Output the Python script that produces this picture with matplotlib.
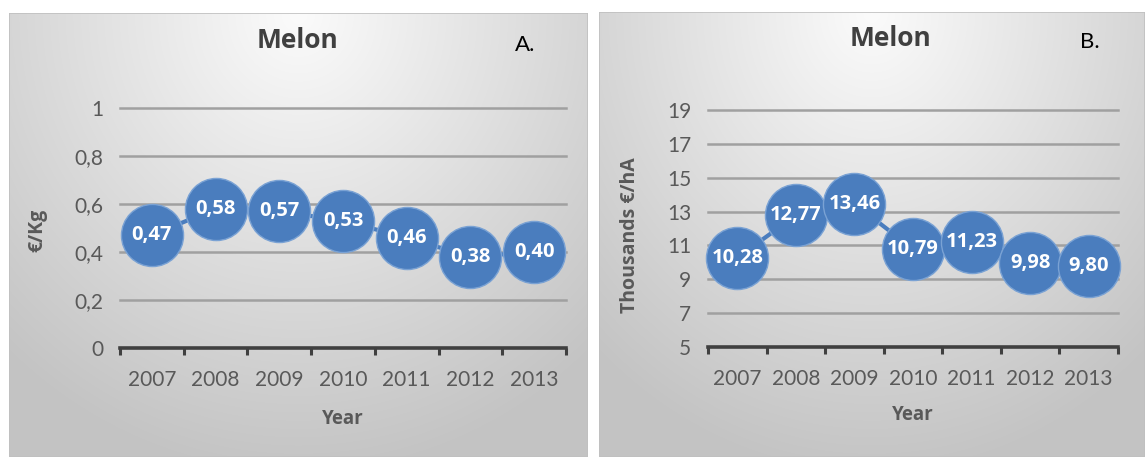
import matplotlib.pyplot as plt
import numpy as np

years = ["2007", "2008", "2009", "2010", "2011", "2012", "2013"]
price_kg = [0.47, 0.58, 0.57, 0.53, 0.46, 0.38, 0.40]
income_ha = [10.28, 12.77, 13.46, 10.79, 11.23, 9.98, 9.80]

W, H = 1145, 457
BLUE = "#4a7dbe"
GREY_TXT = "#595959"
FONT = ["Lato", "DejaVu Sans"]
BOLD = ["Open Sans", "DejaVu Sans"]

plt.rcParams["font.family"] = FONT

fig = plt.figure(figsize=(W / 100, H / 100), dpi=100)


def px_box(x0, y0, x1, y1):
    # pixel box (top-left origin) -> figure rect
    return [x0 / W, 1 - y1 / H, (x1 - x0) / W, (y1 - y0) / H]


def panel_bg(x0, y0, x1, y1):
    bg = fig.add_axes(px_box(x0, y0, x1, y1), zorder=0)
    ny, nx = 200, 300
    yy, xx = np.mgrid[0:1:ny * 1j, 0:1:nx * 1j]
    r = np.sqrt(((xx - 0.5) / 0.75) ** 2 + (yy / 1.05) ** 2)
    r = np.clip(r, 0, 1)
    v = 0.985 - 0.22 * r
    img = np.dstack([v, v, v])
    bg.imshow(img, aspect="auto", extent=(0, 1, 1, 0), interpolation="bilinear")
    bg.set_xlim(0, 1)
    bg.set_ylim(1, 0)
    bg.plot([0, 1, 1, 0, 0], [0, 0, 1, 1, 0], color="#c0c0c0", lw=1.2)
    bg.axis("off")


def bubble_chart(rect, values, ylim, yticks, ylabels, ylabel, ylab_xy):
    ax = fig.add_axes(rect, zorder=2)
    ax.patch.set_alpha(0)
    x = np.arange(len(values))
    ax.plot(x, values, color=BLUE, lw=3, zorder=3)
    ax.scatter(x, values, s=2000, color=BLUE, edgecolor="#7aa2d4",
               linewidth=1.0, zorder=4, clip_on=False)
    for xi, v in zip(x, values):
        ax.text(xi, v, f"{v:.2f}".replace(".", ","), color="white", fontsize=14.5,
                fontweight="bold", family=BOLD, ha="center", va="center", zorder=5)
    ax.set_xlim(-0.5, len(values) - 0.5)
    ax.set_ylim(*ylim)
    for t in yticks[1:]:
        ax.axhline(t, color="#a0a0a0", lw=1.8, zorder=1, clip_on=False)
    ax.set_yticks(yticks)
    ax.set_yticklabels(ylabels)
    ax.tick_params(axis="y", length=0, pad=12, labelsize=15, labelcolor=GREY_TXT)
    ax.set_xticks(np.arange(-0.5, len(values)), minor=False)
    ax.set_xticklabels([])
    ax.set_xticks(x, minor=True)
    ax.set_xticklabels(years, minor=True)
    ax.tick_params(axis="x", which="major", length=5, width=2.2, color="#404040",
                   direction="out")
    ax.tick_params(axis="x", which="minor", length=0, pad=16, labelsize=15,
                   labelcolor=GREY_TXT)
    for s in ["top", "right", "left"]:
        ax.spines[s].set_visible(False)
    ax.spines["bottom"].set_linewidth(2.6)
    ax.spines["bottom"].set_color("#404040")
    ax.spines["bottom"].set_zorder(2)
    ax.set_ylabel(ylabel, fontsize=14, fontweight="bold", family=BOLD, color=GREY_TXT)
    ax.yaxis.set_label_coords(*ylab_xy)
    ax.set_xlabel("Year", fontsize=13.5, fontweight="bold", family=BOLD, color=GREY_TXT)
    return ax


panel_bg(9, 13, 588, 457)
panel_bg(599, 12, 1145, 457)

axA = bubble_chart(px_box(120, 108, 566, 348), price_kg, (0, 1),
                   [0, 0.2, 0.4, 0.6, 0.8, 1.0],
                   ["0", "0,2", "0,4", "0,6", "0,8", "1"],
                   "€/Kg", (-0.163, 0.49))
axA.xaxis.set_label_coords(0.5, -0.255)

axB = bubble_chart(px_box(708, 110, 1118, 347), income_ha, (5, 19),
                   [5, 7, 9, 11, 13, 15, 17, 19],
                   ["5", "7", "9", "11", "13", "15", "17", "19"],
                   "Thousands €/hA", (-0.167, 0.47))
axB.xaxis.set_label_coords(0.5, -0.245)

fig.text(298 / W, 1 - 40 / H, "Melon", fontsize=19, fontweight="bold", family=BOLD,
         color="#404040", ha="center", va="center", zorder=6)
fig.text(525 / W, 1 - 45 / H, "A.", fontsize=16, color="black",
         ha="center", va="center", zorder=6)
fig.text(891 / W, 1 - 38 / H, "Melon", fontsize=19, fontweight="bold", family=BOLD,
         color="#404040", ha="center", va="center", zorder=6)
fig.text(1090 / W, 1 - 42 / H, "B.", fontsize=16, color="black",
         ha="center", va="center", zorder=6)

fig.savefig("out.png", dpi=100)
